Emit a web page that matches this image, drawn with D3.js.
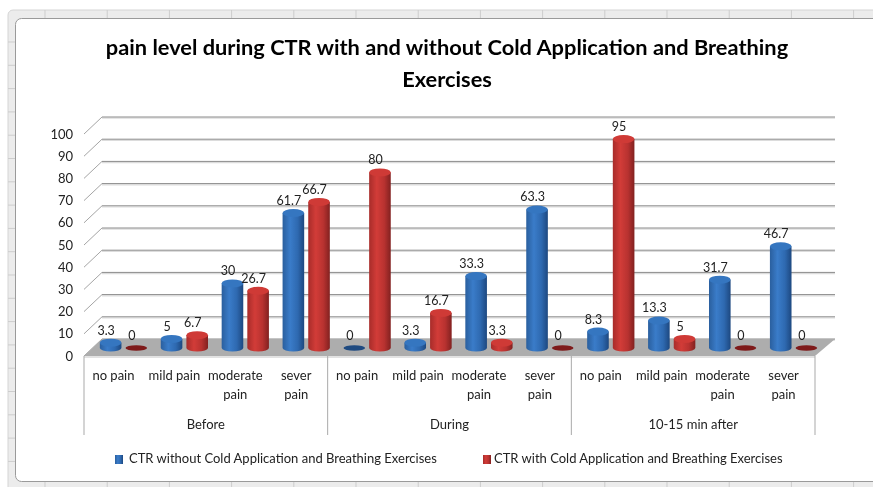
<!DOCTYPE html>
<html lang="en">

<head>
  <meta charset="UTF-8">
  <title>pain level during CTR</title>
  <script src="https://cdn.jsdelivr.net/npm/d3@7"></script>
  <style>
    html, body { margin: 0; padding: 0; background: #fff; overflow: hidden; }
    svg { display: block; filter: blur(0.35px); }
    text { font-family: Lato, sans-serif; fill: #222; }
  </style>
</head>

<body>
  <svg width="873" height="487" id="chart"></svg>
  <script>
    const titleLines = ['pain level during CTR with and without Cold Application and Breathing', 'Exercises'];
    const phases = ['Before', 'During', '10-15 min after'];
    const painLevels = [['no pain'], ['mild pain'], ['moderate', 'pain'], ['sever', 'pain']];
    const seriesNames = ['CTR without Cold Application and Breathing Exercises', 'CTR with Cold Application and Breathing Exercises'];
    const withoutCold = [3.3, 5, 30, 61.7, 0, 3.3, 33.3, 63.3, 8.3, 13.3, 31.7, 46.7];
    const withCold = [0, 6.7, 26.7, 66.7, 80, 16.7, 3.3, 0, 95, 5, 0, 0];
    const yTicks = d3.range(0, 101, 10);

    const svg = d3.select('#chart');
    const defs = svg.append('defs');

    // cylinder shading, one gradient per series
    function shade(id, stops) {
      const g = defs.append('linearGradient').attr('id', id);
      stops.forEach(s => g.append('stop').attr('offset', s[0]).attr('stop-color', s[1]));
    }
    shade('blueSide', [[0, '#2a5f9e'], [0.35, '#3a7cc9'], [0.7, '#2e69b0'], [1, '#1d4880']]);
    shade('redSide', [[0, '#a82c2a'], [0.35, '#d23c38'], [0.7, '#b83230'], [1, '#822120']]);
    const sideFill = ['url(#blueSide)', 'url(#redSide)'];
    const topFill = ['#3576c0', '#cf3a36'];
    const flatFill = ['#1f4a80', '#7e1a1a'];

    // worksheet frame behind the chart, runs off the right and bottom edges
    svg.append('rect').attr('x', 8).attr('y', 10).attr('width', 880).attr('height', 490)
      .attr('fill', '#ececec').attr('stroke', '#d4d4d4').attr('rx', 5);
    const sheetLines = svg.append('g').attr('stroke', '#cdcdcd');
    d3.range(45, 873, 62.2).forEach(v => {
      sheetLines.append('line').attr('x1', v).attr('x2', v).attr('y1', 10).attr('y2', 18);
      sheetLines.append('line').attr('x1', v).attr('x2', v).attr('y1', 482).attr('y2', 487);
    });
    d3.range(42, 480, 23.3).forEach(v => {
      sheetLines.append('line').attr('x1', 8).attr('x2', 15).attr('y1', v).attr('y2', v);
    });
    svg.append('rect').attr('x', 15.5).attr('y', 18.5).attr('width', 880).attr('height', 463)
      .attr('fill', '#fff').attr('stroke', '#9a9a9a').attr('rx', 6);

    const left = 84, right = 815, depthX = 18, depthY = -17;

    const y = d3.scaleLinear().domain([0, 100]).range([356, 134]);
    const categories = d3.range(withoutCold.length);
    const x = d3.scaleBand().domain(categories).range([left, right]);
    const inner = d3.scaleBand().domain([0, 1]).range([0, 49]).paddingInner(0.09);
    const phaseX = d3.scaleBand().domain(phases).range([left, right]);

    // title
    svg.append('text').attr('text-anchor', 'middle').attr('font-size', 21.8).attr('font-weight', 700)
      .style('fill', '#000')
      .selectAll('tspan').data(titleLines).enter().append('tspan')
      .attr('x', 447).attr('y', (d, i) => 55 + i * 32).text(d => d);

    // back wall grid and left wall
    const grid = svg.append('g');
    yTicks.forEach(t => {
      const wall = `M${left} ${y(t)} L${left + depthX} ${y(t) + depthY}`;
      const back = `M${left + depthX} ${y(t) + depthY} L${right + 20} ${y(t) + depthY}`;
      grid.append('path').attr('d', back).attr('transform', 'translate(0, 1.2)')
        .attr('fill', 'none').attr('stroke', '#dcdcdc').attr('stroke-width', 1.2);
      grid.append('path').attr('d', back).attr('fill', 'none').attr('stroke', '#8a8a8a');
      grid.append('path').attr('d', wall).attr('fill', 'none').attr('stroke', '#a5a5a5');
    });

    // floor
    svg.append('path')
      .attr('d', `M${left} ${y(0)} L${left + depthX} ${y(0) + depthY} L${right + 20} ${y(0) + depthY} L${right} ${y(0)} Z`)
      .attr('fill', '#adadad');
    svg.append('rect').attr('x', left).attr('y', y(0)).attr('width', right - left).attr('height', 2).attr('fill', '#e2e2e2');

    // y axis
    const axis = svg.append('g').attr('transform', `translate(${left}, 0)`)
      .call(d3.axisLeft(y).tickValues(yTicks).tickSize(0).tickPadding(11));
    axis.select('.domain').remove();
    axis.selectAll('text').attr('font-size', 13).style('font-family', 'Lato, sans-serif').style('fill', '#222');

    // bars
    const rx = 10.8, ry = 4, baseShift = 9;
    const bars = svg.append('g');
    const labels = svg.append('g');
    [withoutCold, withCold].forEach((values, s) => {
      values.forEach((v, i) => {
        const cx = x(i) + (x.bandwidth() - 49) / 2 + inner(s) + inner.bandwidth() / 2 + baseShift;
        const yBase = y(0) - 8;
        const yTop = y(v) - 6;
        if (v === 0) {
          bars.append('ellipse').attr('cx', cx).attr('cy', yBase).attr('rx', rx).attr('ry', 2.8)
            .attr('fill', flatFill[s]);
        } else {
          bars.append('path')
            .attr('d', `M${cx - rx} ${yTop} L${cx - rx} ${yBase} A${rx} 3.4 0 0 0 ${cx + rx} ${yBase} L${cx + rx} ${yTop} Z`)
            .attr('fill', sideFill[s]);
          bars.append('ellipse').attr('cx', cx).attr('cy', yTop).attr('rx', rx).attr('ry', ry)
            .attr('fill', topFill[s]);
        }
        labels.append('text').attr('x', cx - 4.5).attr('y', (v === 0 ? yBase : yTop) - 8)
          .attr('text-anchor', 'middle').attr('font-size', 12.5).text(v);
      });
    });

    // category labels, repeated per phase
    const catAxis = svg.append('g');
    categories.forEach(i => {
      const t = catAxis.append('text').attr('text-anchor', 'middle').attr('font-size', 13);
      t.selectAll('tspan').data(painLevels[i % painLevels.length]).enter().append('tspan')
        .attr('x', x(i) + x.bandwidth() / 2 - 1)
        .attr('y', (d, k) => 380 + k * 19)
        .text(d => d);
    });
    phases.forEach(p => {
      catAxis.append('text').attr('x', phaseX(p) + phaseX.bandwidth() / 2).attr('y', 429)
        .attr('text-anchor', 'middle').attr('font-size', 13).text(p);
      catAxis.append('line').attr('x1', phaseX(p)).attr('x2', phaseX(p)).attr('y1', y(0)).attr('y2', 435)
        .attr('stroke', '#a9a9a9');
    });
    catAxis.append('line').attr('x1', right).attr('x2', right).attr('y1', y(0)).attr('y2', 435)
      .attr('stroke', '#a9a9a9');

    // legend
    const legendX = [[115, 129], [483, 494]];
    seriesNames.forEach((name, s) => {
      svg.append('rect').attr('x', legendX[s][0]).attr('y', 455).attr('width', 8).attr('height', 9)
        .attr('fill', sideFill[s]);
      svg.append('text').attr('x', legendX[s][1]).attr('y', 463).attr('font-size', 13).text(name);
    });
  </script>
</body>

</html>
